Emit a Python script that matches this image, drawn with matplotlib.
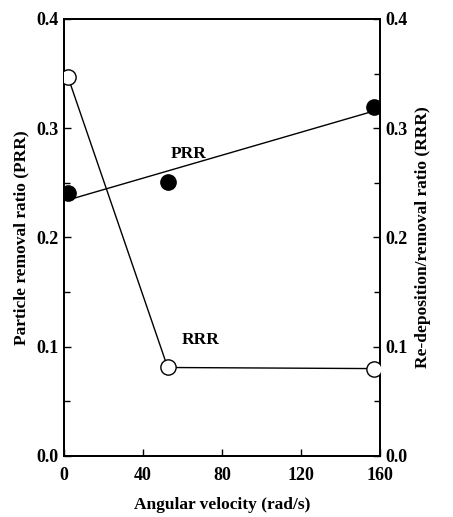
import matplotlib.pyplot as plt
from matplotlib.ticker import MultipleLocator
import numpy as np

plt.rcParams['font.family'] = ['Liberation Serif', 'DejaVu Serif']
plt.rcParams['font.weight'] = 'bold'

velocity = [2, 52.5, 157]
prr = [0.241, 0.251, 0.319]
rrr = [0.347, 0.081, 0.080]

fig = plt.figure(figsize=(4.53, 5.17), dpi=100)
ax = fig.add_axes([0.1413, 0.118, 0.6976, 0.8453])
ax2 = ax.twinx()

# PRR: points with a straight-line fit
coef = np.polyfit(velocity, prr, 1)
fit_x = np.array([velocity[0], velocity[-1]])
ax.plot(fit_x, np.polyval(coef, fit_x), color='black', lw=1, zorder=2)
ax.plot(velocity, prr, 'o', color='black', ms=11, zorder=3)

# RRR: open circles joined by lines
ax2.plot(velocity, rrr, '-o', color='black', lw=1, ms=11,
         markerfacecolor='white', markeredgewidth=1, zorder=3)

for a in (ax, ax2):
    a.set_xlim(0, 160)
    a.set_ylim(0, 0.4)
    a.yaxis.set_major_locator(MultipleLocator(0.1))
    a.yaxis.set_minor_locator(MultipleLocator(0.05))
    for s in a.spines.values():
        s.set_linewidth(1.3)
    a.tick_params(which='both', direction='in', labelsize=13, width=1)
    a.tick_params(which='major', length=5)
    a.tick_params(which='minor', length=4)

ax.xaxis.set_major_locator(MultipleLocator(40))
ax.tick_params(axis='x', pad=8)
ax.yaxis.set_major_formatter(plt.FormatStrFormatter('%.1f'))
ax2.yaxis.set_major_formatter(plt.FormatStrFormatter('%.1f'))
ax.tick_params(axis='y', pad=4)
ax2.tick_params(axis='y', pad=4)

ax.set_xlabel('Angular velocity (rad/s)', fontsize=12.5, fontweight='bold', labelpad=9)
ax.set_ylabel('Particle removal ratio (PRR)', fontsize=12.5, fontweight='bold', labelpad=5)
ax2.set_ylabel('Re-deposition/removal ratio (RRR)', fontsize=12.5, fontweight='bold', labelpad=5)

ax.text(63, 0.269, 'PRR', fontsize=12.5, fontweight='bold', ha='center', va='bottom')
ax.text(69, 0.099, 'RRR', fontsize=12.5, fontweight='bold', ha='center', va='bottom')

fig.savefig('out.png', dpi=100)
